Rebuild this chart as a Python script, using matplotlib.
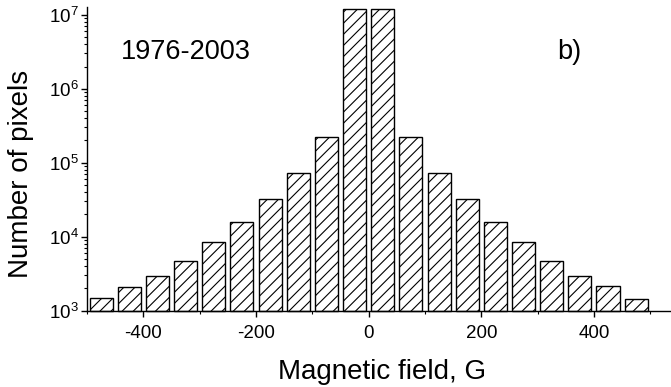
import matplotlib.pyplot as plt
import matplotlib.ticker as mticker

# Histogram of pixel field values, bins of 50 G
bin_centers = [-475, -425, -375, -325, -275, -225, -175, -125, -75, -25,
               25, 75, 125, 175, 225, 275, 325, 375, 425, 475]
pixel_counts = [1500, 2070, 2950, 4700, 8450, 15800, 32400, 73000, 224000, 1.18e7,
                1.20e7, 222000, 73500, 32400, 15800, 8450, 4700, 2930, 2130, 1440]
x_ticks = [-400, -200, 0, 200, 400]

plt.rcParams['font.family'] = ['Liberation Sans', 'DejaVu Sans']
plt.rcParams['mathtext.fontset'] = 'custom'
plt.rcParams['mathtext.rm'] = 'Liberation Sans'
plt.rcParams['hatch.linewidth'] = 0.8

fig = plt.figure(figsize=(6.71, 3.87), dpi=100)
ax = fig.add_axes([0.1297, 0.197, 0.8688, 0.784])

# bars start at the bottom of the log axis so they can run past the top unclipped
base = 1e3
ax.bar(bin_centers, [c - base for c in pixel_counts], width=41, bottom=base,
       color='white', edgecolor='black', linewidth=1.0, hatch='///', clip_on=False)

ax.set_yscale('log')
ax.set_ylim(base, 1.26e7)
ax.set_xlim(-500, 535)

ax.set_xticks(x_ticks)
ax.set_xticklabels([str(v) for v in x_ticks])
ax.xaxis.set_minor_locator(mticker.MultipleLocator(100))
ax.yaxis.set_major_locator(mticker.LogLocator(base=10, numticks=10))
ax.yaxis.set_minor_locator(mticker.LogLocator(base=10, subs=range(2, 10), numticks=10))
ax.yaxis.set_minor_formatter(mticker.NullFormatter())

for side in ('top', 'right'):
    ax.spines[side].set_visible(False)
for side in ('left', 'bottom'):
    ax.spines[side].set_linewidth(1.0)

ax.tick_params(axis='both', which='major', direction='out', length=4, width=1,
               labelsize=13.5, colors='black')
ax.tick_params(axis='both', which='minor', direction='out', length=2.5, width=0.8)
ax.tick_params(axis='x', pad=6)
ax.tick_params(axis='y', pad=2)

ax.set_xlabel('Magnetic field, G', fontsize=20)
ax.set_ylabel('Number of pixels', fontsize=20)
ax.xaxis.set_label_coords(0.5055, -0.158)
ax.yaxis.set_label_coords(-0.0915, 0.452)

ax.text(0.058, 0.853, '1976-2003', transform=ax.transAxes, fontsize=19.5,
        ha='left', va='center')
ax.text(0.807, 0.853, 'b)', transform=ax.transAxes, fontsize=19.5,
        ha='left', va='center')

fig.savefig('out.png', dpi=100)
